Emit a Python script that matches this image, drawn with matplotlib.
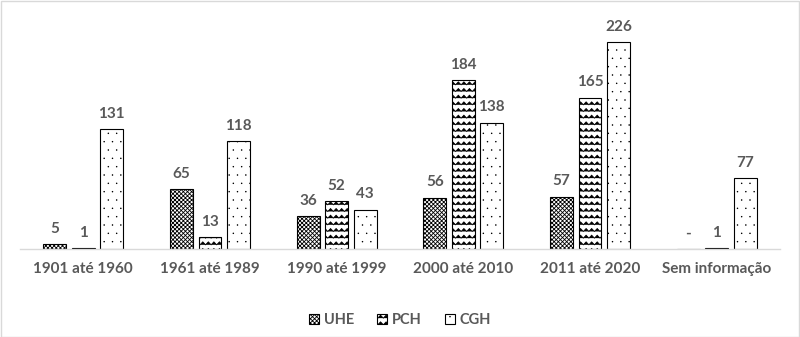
import numpy as np
import matplotlib
matplotlib.use("Agg")
import matplotlib.pyplot as plt
import matplotlib.hatch as mhatch
from matplotlib.path import Path
from matplotlib.patches import Rectangle

# ---- custom zigzag hatch (replaces '-' horizontal hatch) ----
class ZigzagHatch(mhatch.HatchPatternBase):
    periods = 18
    def __init__(self, hatch, density):
        self.num_lines = int(hatch.count('-') * density * 0.85)
        self.num_vertices = self.num_lines * (2 * self.periods + 1)

    def set_vertices_and_codes(self, vertices, codes):
        if self.num_lines == 0:
            return
        steps, stepsize = np.linspace(0.0, 1.0, self.num_lines, False, retstep=True)
        steps += stepsize / 2.
        n = 2 * self.periods + 1
        xs = np.linspace(0.0, 1.0, n)
        amp = stepsize * 0.22
        offs = np.where(np.arange(n) % 2 == 0, -amp, amp)
        for i, s in enumerate(steps):
            vertices[i * n:(i + 1) * n, 0] = xs
            vertices[i * n:(i + 1) * n, 1] = s + offs
            codes[i * n] = Path.MOVETO
            codes[i * n + 1:(i + 1) * n] = Path.LINETO

mhatch._hatch_types = [ZigzagHatch if t is mhatch.HorizontalHatch else t
                       for t in mhatch._hatch_types]
mhatch.SmallFilledCircles.size = 0.04

plt.rcParams['font.family'] = ['Lato', 'DejaVu Sans']
plt.rcParams['hatch.linewidth'] = 0.6

categories = ["1901 até 1960", "1961 até 1989", "1990 até 1999",
              "2000 até 2010", "2011 até 2020", "Sem informação"]
uhe = [5, 65, 36, 56, 57, 0]
pch = [1, 13, 52, 184, 165, 1]
cgh = [131, 118, 43, 138, 226, 77]
uhe_labels = ["5", "65", "36", "56", "57", "-"]
pch_labels = [str(v) for v in pch]
cgh_labels = [str(v) for v in cgh]

series = [("UHE", uhe, uhe_labels, 'xxxxxxxx'),
          ("PCH", pch, pch_labels, '---'),
          ("CGH", cgh, cgh_labels, '..')]

txt = '#595959'
fig = plt.figure(figsize=(8.0, 3.37), dpi=100)
ax = fig.add_axes([0.025, 0.261, 0.95, 0.68])

x = np.arange(len(categories))
width = 0.18
offsets = [-0.225, 0.0, 0.225]
handles = []
for (name, vals, labs, hatch), off in zip(series, offsets):
    bars = ax.bar(x + off, vals, width, facecolor='white', edgecolor='black',
                  linewidth=0.8, hatch=hatch, label=name)
    handles.append(bars)
    for xi, v, lab in zip(x + off, vals, labs):
        ax.annotate(lab, (xi, v), xytext=(0, 6), textcoords='offset points',
                    ha='center', va='bottom', fontsize=11, fontweight='bold',
                    color=txt)

ax.set_xlim(-0.5, 5.5)
ax.set_ylim(0, 250)
ax.set_yticks([])
for s in ['top', 'right', 'left']:
    ax.spines[s].set_visible(False)
ax.spines['bottom'].set_color('#d9d9d9')
ax.spines['bottom'].set_linewidth(1.0)
ax.set_xticks(x)
ax.set_xticklabels(categories, fontsize=11, fontweight='bold', color=txt)
ax.tick_params(axis='x', length=0, pad=9)

leg = fig.legend(handles=handles, loc='center', bbox_to_anchor=(0.5, 0.05),
                 ncol=3, frameon=False, handlelength=0.7, handleheight=0.7,
                 handletextpad=0.3, columnspacing=1.6,
                 prop={'size': 10.5, 'weight': 'bold'})
for t in leg.get_texts():
    t.set_color(txt)

fig.patches.append(Rectangle((0.001, 0.001), 0.998, 0.997, transform=fig.transFigure,
                             fill=False, edgecolor='#d9d9d9', linewidth=1.0))

fig.savefig('out.png', dpi=100, facecolor='white')
